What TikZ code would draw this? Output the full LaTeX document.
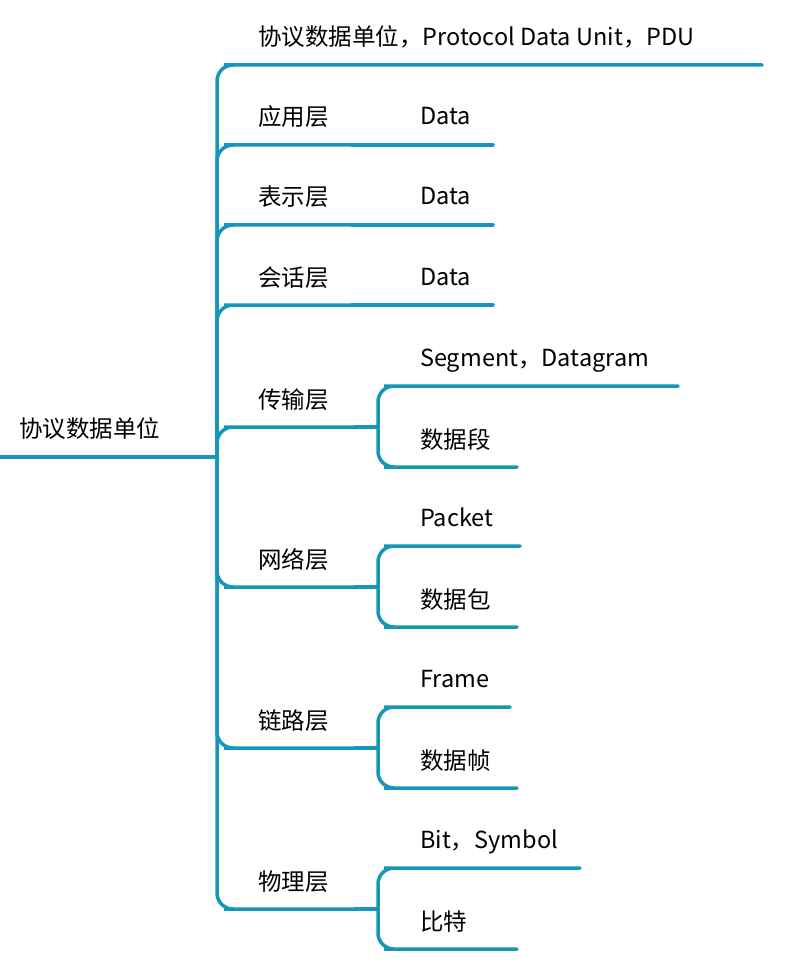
\documentclass[tikz,border=0pt]{standalone}
\usepackage{fontspec}
\setmainfont{Noto Sans CJK SC}
\definecolor{br}{RGB}{22,150,185}
\begin{document}
\begin{tikzpicture}[x=1pt,y=-1pt,
  lbl/.style={anchor=base west,inner sep=0pt,font=\fontsize{23.5}{26}\selectfont},
  ln/.style={draw=br,line width=3.5pt,line cap=round,rounded corners=16pt}]
\useasboundingbox (0,0) rectangle (791,968);
\coordinate (root) at (217,457);
\node[lbl] (r) at (19,437) {协议数据单位};
\draw[ln] (0,457) -- (root);
% level 1
\foreach \n/\t/\y/\e in {a/{协议数据单位，Protocol Data Unit，PDU}/65/762,
  b/应用层/145/352, c/表示层/225/352, d/会话层/305/352,
  e/传输层/427/355, f/网络层/587/355, g/链路层/748/355, h/物理层/909/355}{
  \node[lbl] (\n) at (258,\y-19) {\t};
  \coordinate (\n e) at (\e,\y);
  \draw[ln] (root) |- (240,\y) -- (\n e);
}
% Data children
\foreach \n/\y in {b/145,c/225,d/305}{
  \node[lbl] (\n x) at (420,\y-20) {Data};
  \coordinate (\n xe) at (493,\y);
  \draw[ln] (\n e) -- (\n xe);
}
% two-child branches
\foreach \n/\y/\ta/\ea/\tb/\eb in {e/427/{Segment，Datagram}/678/数据段/517,
  f/587/Packet/520/数据包/517, g/748/Frame/510/数据帧/517, h/909/{Bit，Symbol}/580/比特/517}{
  \coordinate (\n j) at (378,\y);
  \node[lbl] (\n 1) at (420,\y-61) {\ta};
  \node[lbl] (\n 2) at (420,\y+21) {\tb};
  \coordinate (\n 1e) at (\ea,\y-41);
  \coordinate (\n 2e) at (\eb,\y+40);
  \draw[ln] (\n e) -- (\n j);
  \draw[ln] (\n j) |- (400,\y-41) -- (\n 1e);
  \draw[ln] (\n j) |- (400,\y+40) -- (\n 2e);
}
\end{tikzpicture}
\end{document}
